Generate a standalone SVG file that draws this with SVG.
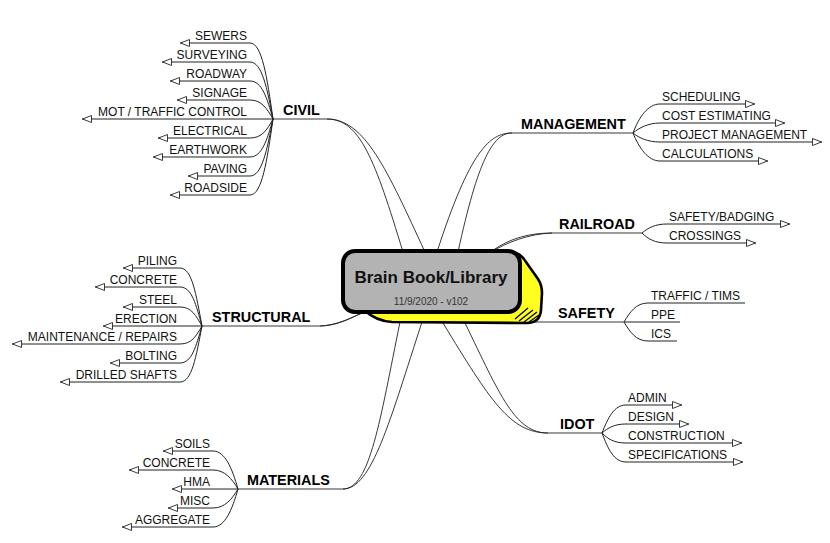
<svg xmlns="http://www.w3.org/2000/svg" width="830" height="543" viewBox="0 0 830 543">
<style>
.bg{fill:#fff}
.rib{fill:none;stroke:#222;stroke-width:0.9}
.ln{fill:none;stroke:#222;stroke-width:1}
.ar{marker-end:url(#arr)}
.br{font-family:"Liberation Sans",Arial,sans-serif;font-weight:bold;font-size:14.4px;fill:#000}
.ch{font-family:"Liberation Sans",Arial,sans-serif;font-size:12px;fill:#111}
.end{text-anchor:end}
.title{font-family:"Liberation Sans",Arial,sans-serif;font-weight:bold;font-size:17px;fill:#111;text-anchor:middle}
.sub{font-family:"Liberation Sans",Arial,sans-serif;font-size:10px;fill:#333;text-anchor:middle}
</style>
<defs>
<marker id="arr" viewBox="0 0 10 8" refX="10" refY="4" markerWidth="10" markerHeight="8" markerUnits="userSpaceOnUse" orient="auto">
<path d="M0.5,0.5 L9.5,4 L0.5,7.5 Z" fill="#fff" stroke="#222" stroke-width="0.9"/>
</marker>
</defs>
<rect class="bg" x="0" y="0" width="830" height="543"/>
<g id="connectors">
<path class="rib" d="M273,119 H327 C360,119 375,160 403,252 M327,119 C365,119 387,170 425,252"/>
<path class="rib" d="M633,133 H512 C490,133 470,150 437,252 M512,133 C493,133 478,160 458,252"/>
<path class="rib" d="M642,233 H552 C530,233 510,238 492,251 M552,233 C528,234 508,242 489,253"/>
<path class="rib" d="M624,322 L528,322"/>
<path class="rib" d="M602,433 H548 C510,433 490,400 443,323 M548,433 C515,433 500,395 465,323"/>
<path class="rib" d="M238,489 H343 C370,489 380,420 400,322 M343,489 C372,489 390,420 422,322"/>
<path class="rib" d="M202,326 H320 C335,326 347,320 362,313 M320,326 C338,325 351,318 366,311"/>
<path class="ln ar" d="M273,119 C267,77 262,43 250,43 H180"/>
<path class="ln ar" d="M273,119 C267,88 262,62 250,62 H162"/>
<path class="ln ar" d="M273,119 C267,98 262,81 250,81 H170"/>
<path class="ln ar" d="M273,119 C267,109 262,100 250,100 H177"/>
<path class="ln ar" d="M273,119 H82"/>
<path class="ln ar" d="M273,119 C267,130 262,138 250,138 H158"/>
<path class="ln ar" d="M273,119 C267,140 262,157 250,157 H153"/>
<path class="ln ar" d="M273,119 C267,150 262,176 250,176 H188"/>
<path class="ln ar" d="M273,119 C267,161 262,195 250,195 H170"/>
<path class="ln ar" d="M202,326 C196,294 192,268 180,268 H123"/>
<path class="ln ar" d="M202,326 C196,305 192,287 180,287 H95"/>
<path class="ln ar" d="M202,326 C196,316 192,307 180,307 H123"/>
<path class="ln ar" d="M202,326 H103"/>
<path class="ln ar" d="M202,326 C196,336 192,344 180,344 H12"/>
<path class="ln ar" d="M202,326 C196,346 192,363 180,363 H110"/>
<path class="ln ar" d="M202,326 C196,357 192,382 180,382 H60"/>
<path class="ln ar" d="M238,489 C232,468 225,451 213,451 H163"/>
<path class="ln ar" d="M238,489 C232,479 225,470 213,470 H129"/>
<path class="ln ar" d="M238,489 H172"/>
<path class="ln ar" d="M238,489 C232,499 225,508 213,508 H168"/>
<path class="ln ar" d="M238,489 C232,510 225,527 213,527 H122"/>
<path class="ln ar" d="M633,133 C639,117 648,104 660,104 H755"/>
<path class="ln ar" d="M633,133 C639,128 648,123 660,123 H785"/>
<path class="ln ar" d="M633,133 C639,138 648,142 660,142 H822"/>
<path class="ln ar" d="M633,133 C639,148 648,161 660,161 H768"/>
<path class="ln ar" d="M642,233 C648,228 655,224 667,224 H790"/>
<path class="ln ar" d="M642,233 C648,239 655,243 667,243 H756"/>
<path class="ln" d="M624,322 C630,312 636,303 648,303 H745"/>
<path class="ln" d="M624,322 H680"/>
<path class="ln" d="M624,322 C630,332 636,341 648,341 H677"/>
<path class="ln ar" d="M602,433 C608,418 614,405 626,405 H682"/>
<path class="ln ar" d="M602,433 C608,428 614,424 626,424 H689"/>
<path class="ln ar" d="M602,433 C608,439 614,443 626,443 H742"/>
<path class="ln ar" d="M602,433 C608,449 614,462 626,462 H743"/>
</g>
<g id="center">
<path d="M505,251 Q520,251 526,262 L538,279 Q542,285 542,293 L541,310 Q540,323 527,323 L392,322 Q376,321 364,310 Z" fill="#ffff1f" stroke="#000" stroke-width="2.6" stroke-linejoin="round"/>
<rect x="343" y="251" width="177" height="61" rx="12" ry="12" fill="#b3b3b3" stroke="#000" stroke-width="4"/>
<path d="M515,319 L528,308 M519,321 L533,310 M524,322 L537,312 M529,322 L539,315" stroke="#000" stroke-width="1.3" fill="none"/>
<text class="title" x="431" y="283">Brain Book/Library</text>
<text class="sub" x="431" y="305">11/9/2020 - v102</text>
</g>
<g id="civil"><text class="br" x="283" y="115">CIVIL</text></g>
<g id="management"><text class="br" x="521" y="129">MANAGEMENT</text></g>
<g id="railroad"><text class="br" x="559" y="229">RAILROAD</text></g>
<g id="safety"><text class="br" x="558" y="318">SAFETY</text></g>
<g id="idot"><text class="br" x="560" y="429">IDOT</text></g>
<g id="materials"><text class="br" x="247" y="485">MATERIALS</text></g>
<g id="structural"><text class="br" x="212" y="322">STRUCTURAL</text></g>
<g id="civil-sewers"><text class="ch end" x="247" y="40">SEWERS</text></g>
<g id="civil-surveying"><text class="ch end" x="247" y="59">SURVEYING</text></g>
<g id="civil-roadway"><text class="ch end" x="247" y="78">ROADWAY</text></g>
<g id="civil-signage"><text class="ch end" x="247" y="97">SIGNAGE</text></g>
<g id="civil-mot"><text class="ch end" x="247" y="116">MOT / TRAFFIC CONTROL</text></g>
<g id="civil-electrical"><text class="ch end" x="247" y="135">ELECTRICAL</text></g>
<g id="civil-earthwork"><text class="ch end" x="247" y="154">EARTHWORK</text></g>
<g id="civil-paving"><text class="ch end" x="247" y="173">PAVING</text></g>
<g id="civil-roadside"><text class="ch end" x="247" y="192">ROADSIDE</text></g>
<g id="str-piling"><text class="ch end" x="177" y="265">PILING</text></g>
<g id="str-concrete"><text class="ch end" x="177" y="284">CONCRETE</text></g>
<g id="str-steel"><text class="ch end" x="177" y="304">STEEL</text></g>
<g id="str-erection"><text class="ch end" x="177" y="323">ERECTION</text></g>
<g id="str-maint"><text class="ch end" x="177" y="341">MAINTENANCE / REPAIRS</text></g>
<g id="str-bolting"><text class="ch end" x="177" y="360">BOLTING</text></g>
<g id="str-drilled"><text class="ch end" x="177" y="379">DRILLED SHAFTS</text></g>
<g id="mat-soils"><text class="ch end" x="210" y="448">SOILS</text></g>
<g id="mat-concrete"><text class="ch end" x="210" y="467">CONCRETE</text></g>
<g id="mat-hma"><text class="ch end" x="210" y="486">HMA</text></g>
<g id="mat-misc"><text class="ch end" x="210" y="505">MISC</text></g>
<g id="mat-aggregate"><text class="ch end" x="210" y="524">AGGREGATE</text></g>
<g id="mgt-scheduling"><text class="ch" x="662" y="101">SCHEDULING</text></g>
<g id="mgt-cost"><text class="ch" x="662" y="120">COST ESTIMATING</text></g>
<g id="mgt-project"><text class="ch" x="662" y="139">PROJECT MANAGEMENT</text></g>
<g id="mgt-calc"><text class="ch" x="662" y="158">CALCULATIONS</text></g>
<g id="rr-safety"><text class="ch" x="669" y="221">SAFETY/BADGING</text></g>
<g id="rr-crossings"><text class="ch" x="669" y="240">CROSSINGS</text></g>
<g id="saf-traffic"><text class="ch" x="651" y="300">TRAFFIC / TIMS</text></g>
<g id="saf-ppe"><text class="ch" x="651" y="319">PPE</text></g>
<g id="saf-ics"><text class="ch" x="651" y="338">ICS</text></g>
<g id="idot-admin"><text class="ch" x="628" y="402">ADMIN</text></g>
<g id="idot-design"><text class="ch" x="628" y="421">DESIGN</text></g>
<g id="idot-construction"><text class="ch" x="628" y="440">CONSTRUCTION</text></g>
<g id="idot-specs"><text class="ch" x="628" y="459">SPECIFICATIONS</text></g>
</svg>
